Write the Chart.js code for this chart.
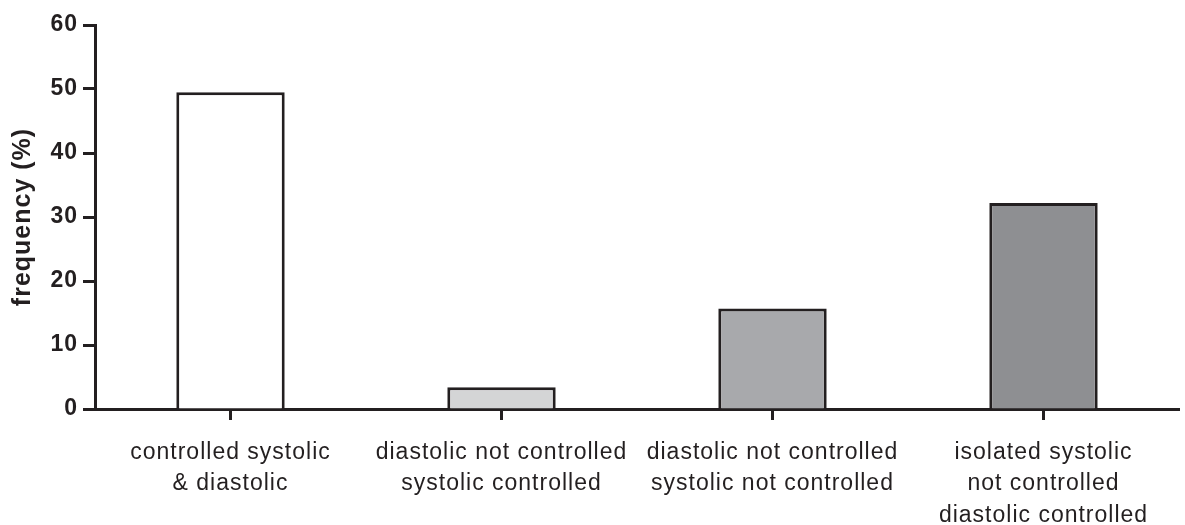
<!DOCTYPE html>
<html>
<head>
<meta charset="utf-8">
<script src="https://cdn.jsdelivr.net/npm/chart.js@4/dist/chart.umd.min.js"></script>
<style>
  html, body { margin: 0; padding: 0; background: #fff; }
  #wrap { width: 1185px; height: 525px; }
</style>
</head>
<body>
<div id="wrap"><canvas id="barChart"></canvas></div>
<script>
// categories and values
const categories = [
  ["controlled systolic", "& diastolic"],
  ["diastolic not controlled", "systolic controlled"],
  ["diastolic not controlled", "systolic not controlled"],
  ["isolated systolic", "not controlled", "diastolic controlled"]
];
const frequency = [49.5, 3.4, 15.7, 32.2];
const yTicks = [0, 10, 20, 30, 40, 50, 60];

const ink = "#231f20";
const fills = ["#ffffff", "#d4d5d6", "#a8a9ac", "#8e8f92"];
const family = "'Liberation Sans', Arial, sans-serif";

// the original text is set a bit wider than Arial
const spacing = {
  id: "spacing",
  beforeInit(chart) { chart.ctx.letterSpacing = "1px"; },
  beforeDraw(chart) { chart.ctx.letterSpacing = "1px"; }
};

new Chart(document.getElementById("barChart"), {
  type: "bar",
  plugins: [spacing],
  data: {
    labels: categories,
    datasets: [{
      data: frequency,
      backgroundColor: fills,
      borderColor: ink,
      borderWidth: 3,
      borderSkipped: "bottom",
      barPercentage: 0.8,
      categoryPercentage: 0.5
    }]
  },
  options: {
    responsive: true,
    maintainAspectRatio: false,
    animation: false,
    layout: { padding: { top: 25, right: 6, left: 8, bottom: 0 } },
    plugins: { legend: { display: false }, tooltip: { enabled: false } },
    scales: {
      x: {
        offset: true,
        grid: { offset: false, drawOnChartArea: false, drawTicks: true, tickLength: 11, tickWidth: 3, tickColor: ink },
        border: { color: ink, width: 3 },
        ticks: {
          color: ink,
          maxRotation: 0,
          autoSkip: false,
          padding: 17,
          font: { family: family, size: 23, lineHeight: 1.36 }
        },
        afterFit: (s) => { s.height = 116; }
      },
      y: {
        min: 0,
        max: 60,
        afterBuildTicks: (s) => { s.ticks = yTicks.map(v => ({ value: v })); },
        grid: { drawOnChartArea: false, drawTicks: true, tickLength: 12, tickWidth: 3, tickColor: ink },
        border: { color: ink, width: 3 },
        ticks: {
          color: ink,
          padding: 5,
          font: { family: family, size: 23, weight: "bold" }
        },
        title: {
          display: true,
          text: "frequency (%)",
          color: ink,
          padding: { top: 0, bottom: 4 },
          font: { family: family, size: 25, weight: "bold" }
        },
        afterFit: (s) => { s.width = 87; }
      }
    }
  }
});
</script>
</body>
</html>
